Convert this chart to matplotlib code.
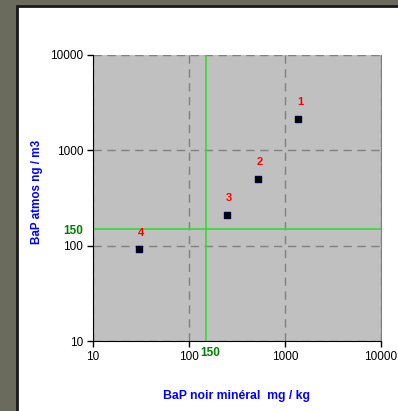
import matplotlib
matplotlib.use('Agg')
import matplotlib.pyplot as plt
from matplotlib.patches import Rectangle

plt.rcParams['font.family'] = ['Liberation Sans', 'DejaVu Sans']

# BaP noir mineral (mg/kg) vs BaP atmos (ng/m3)
labels = ['1', '2', '3', '4']
bap_sol = [1365, 523, 247, 30]
bap_air = [2130, 503, 211, 91.5]
seuil = 150

fig = plt.figure(figsize=(3.98, 4.11), dpi=100)
fig.patch.set_facecolor('#6b6b5d')
# white panel with dark border, behind the axes
fig.patches.append(Rectangle((0.0415, -0.01), 1.0, 0.9955, transform=fig.transFigure,
                             facecolor='white', edgecolor='#1a1a1a', linewidth=2, zorder=-10))

ax = fig.add_axes([0.2337, 0.1703, 0.7236, 0.6959])
ax.set_facecolor('#c0c0c0')
ax.set_xscale('log')
ax.set_yscale('log')
ax.set_xlim(10, 10000)
ax.set_ylim(10, 10000)
ax.set_xticks([10, 100, 1000, 10000])
ax.set_yticks([10, 100, 1000, 10000])
ax.set_xticklabels(['10', '100', '1000', '10000'])
ax.set_yticklabels(['10', '100', '1000', '10000'])
ax.minorticks_off()
ax.tick_params(direction='out', length=4, width=1, labelsize=8.5, colors='black', pad=3)
ax.grid(True, color='#808080', linestyle=(0, (6, 4)), linewidth=1)
ax.set_axisbelow(True)

ax.spines['top'].set_visible(False)
ax.spines['right'].set_color('#808080')
ax.spines['left'].set_color('black')
ax.spines['bottom'].set_color('black')

ax.axvline(seuil, color='#33dd33', linewidth=1.2, zorder=2)
ax.axhline(seuil, color='#33dd33', linewidth=1.2, zorder=2)

ax.scatter(bap_sol, bap_air, marker='s', s=22, color='black', edgecolors='#000033', zorder=3)
for lab, x, y in zip(labels, bap_sol, bap_air):
    ax.annotate(lab, (x, y), xytext=(1.5, 12), textcoords='offset points',
                color='red', fontsize=8, fontweight='bold', ha='center', va='center')

ax.annotate('150', (0, seuil), xycoords=('axes fraction', 'data'), xytext=(-7, -1.8),
            textcoords='offset points', color='#008000', fontsize=8.5,
            fontweight='bold', ha='right', va='center')
ax.annotate('150', (seuil, 0), xycoords=('data', 'axes fraction'), xytext=(3, -4),
            textcoords='offset points', color='#008000', fontsize=8.5,
            fontweight='bold', ha='center', va='top')

fig.text(0.594, 0.037, 'BaP noir minéral  mg / kg', color='blue', fontsize=8.8,
         fontweight='bold', ha='center', va='center')
fig.text(0.094, 0.533, 'BaP atmos ng / m3', color='blue', fontsize=8.4,
         fontweight='bold', ha='center', va='center', rotation=90)

fig.savefig('out.png', dpi=100, facecolor=fig.get_facecolor())
